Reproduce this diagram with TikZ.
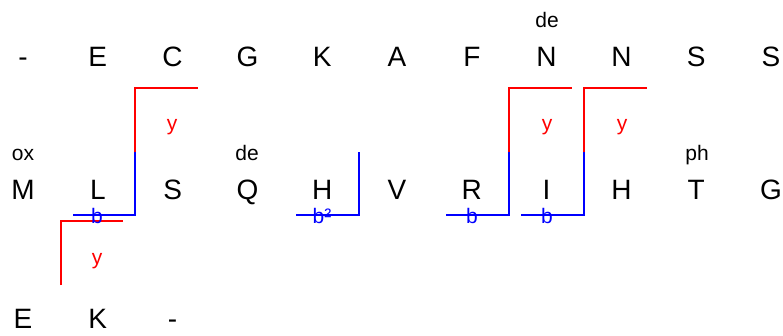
\documentclass[tikz,border=0pt]{standalone}
\usepackage{fontspec}
\setmainfont{Liberation Sans}
\begin{document}
\begin{tikzpicture}[x=1pt,y=-1pt,
  letter/.style={font=\fontsize{28}{32}\selectfont, inner sep=0pt, anchor=base},
  small/.style={font=\fontsize{21}{24}\selectfont, inner sep=0pt, anchor=base},
  ylab/.style={small, text=red},
  blab/.style={small, text=blue},
  redl/.style={draw=red, line width=2.5pt},
  bluel/.style={draw=blue, line width=2.5pt}]
\useasboundingbox (0,0) rectangle (783,335);
% top row
\foreach \t [count=\i from 0] in {-,E,C,G,K,A,F,N,N,S,S}
  \node[letter] (t\i) at ({23+74.8*\i},66) {\t};
% middle row
\foreach \t [count=\i from 0] in {M,L,S,Q,H,V,R,I,H,T,G}
  \node[letter] (m\i) at ({23+74.8*\i},199) {\t};
% bottom row
\foreach \t [count=\i from 0] in {E,K,-}
  \node[letter] (b\i) at ({23+74.8*\i},328.5) {\t};
% small labels
\node[small] (de1) at (547,27) {de};
\node[small] (ox) at (23,160) {ox};
\node[small] (de2) at (247,160) {de};
\node[small] (ph) at (697,160) {ph};
% brackets
\coordinate (c1) at (135,152);
\coordinate (c2) at (509,152);
\coordinate (c3) at (584,152);
\draw[bluel] (73,215) -- (135,215) -- (c1);
\draw[redl] (c1) -- (135,88) -- (198,88);
\draw[bluel] (446,215) -- (509,215) -- (c2);
\draw[redl] (c2) -- (509,88) -- (572,88);
\draw[bluel] (521,215) -- (584,215) -- (c3);
\draw[redl] (c3) -- (584,88) -- (647,88);
\draw[bluel] (296,215) -- (359,215) -- (359,152);
\draw[redl] (61,285) -- (61,221) -- (123,221);
% labels on brackets
\node[ylab] (y1) at (172,130) {y};
\node[ylab] (y2) at (97,264) {y};
\node[ylab] (y3) at (547,130) {y};
\node[ylab] (y4) at (622,130) {y};
\node[blab] (bb1) at (97,223) {b};
\node[blab] (bb2) at (322,223) {b²};
\node[blab] (bb3) at (472,223) {b};
\node[blab] (bb4) at (547,223) {b};
\end{tikzpicture}
\end{document}
